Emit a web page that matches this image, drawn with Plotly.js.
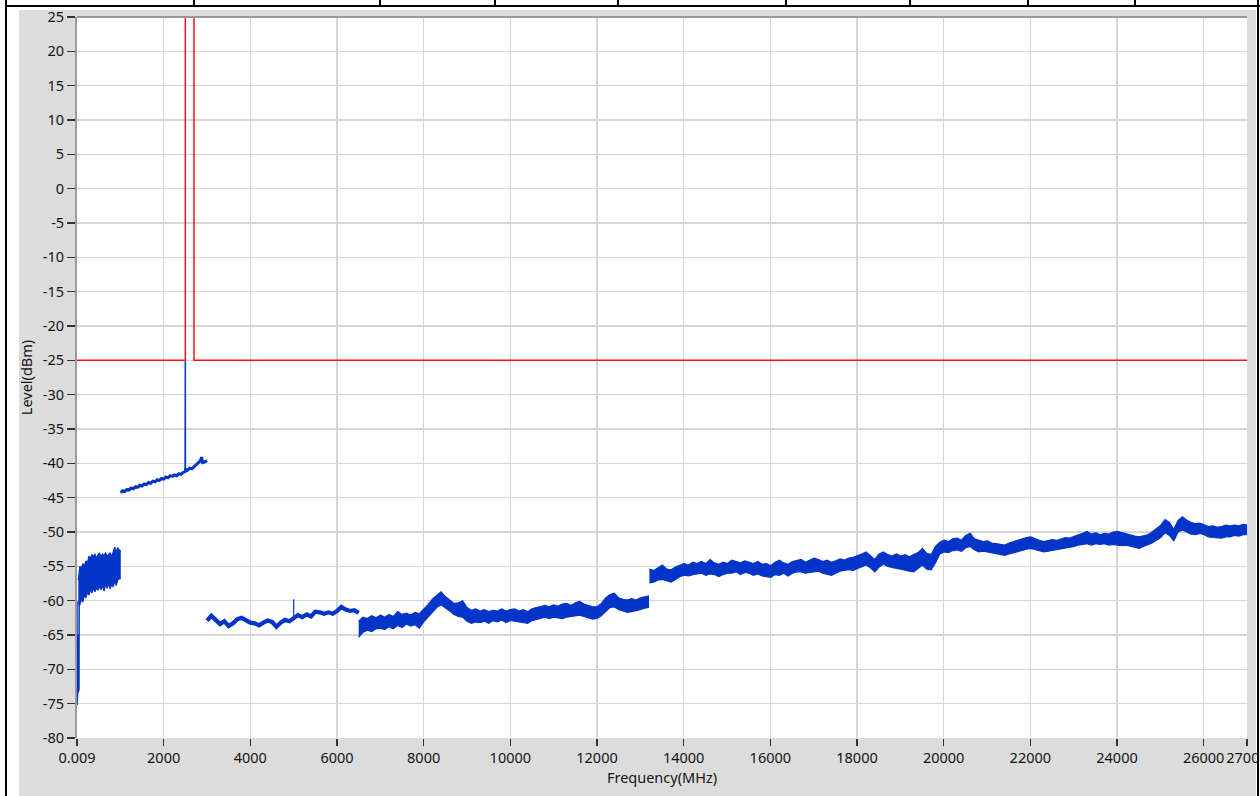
<!DOCTYPE html>
<html><head><meta charset="utf-8">
<script src="https://cdn.plot.ly/plotly-3.0.1.min.js"></script>
<style>
html,body{margin:0;padding:0;background:#fff;}
#wrap{position:relative;width:1260px;height:796px;overflow:hidden;background:#fff;}
#grey{position:absolute;left:19px;top:10px;width:1237px;height:786px;background:#dcdcdc;}
#chart{position:absolute;left:0;top:0;width:1260px;height:796px;}
.blk{position:absolute;background:#000;}
</style></head>
<body><div id="wrap">
<div id="grey"></div>
<div id="chart"></div>
<div class="blk" style="left:5px;top:0;width:2px;height:796px"></div>
<div class="blk" style="left:5px;top:5px;width:1255px;height:2px"></div>
<div class="blk" style="left:1257px;top:0;width:2px;height:796px"></div>
<div class="blk" style="left:193px;top:0;width:2px;height:6px"></div>
<div class="blk" style="left:379px;top:0;width:2px;height:6px"></div>
<div class="blk" style="left:494px;top:0;width:2px;height:6px"></div>
<div class="blk" style="left:617px;top:0;width:2px;height:6px"></div>
<div class="blk" style="left:785px;top:0;width:2px;height:6px"></div>
<div class="blk" style="left:909px;top:0;width:2px;height:6px"></div>
<div class="blk" style="left:1027px;top:0;width:2px;height:6px"></div>
<div class="blk" style="left:1134px;top:0;width:2px;height:6px"></div>
</div>
<script>
// ---------- tick labels ----------
const xTickVals = [0.009, 2000, 4000, 6000, 8000, 10000, 12000, 14000, 16000, 18000, 20000, 22000, 24000, 26000, 27000];
const xTickText = ['0.009','2000','4000','6000','8000','10000','12000','14000','16000','18000','20000','22000','24000','26000','27000'];
const yTickVals = [-80,-75,-70,-65,-60,-55,-50,-45,-40,-35,-30,-25,-20,-15,-10,-5,0,5,10,15,20,25];
const yTickText = ['-80','-75','-70','-65','-60','-55','-50','-45','-40','-35','-30','-25','-20','-15','-10','-5','0','5','10','15','20','25'];

// ---------- limit line (MHz, dBm) ----------
const limitFreq  = [0.009, 2500, 2500, 2700, 2700, 27000];
const limitLevel = [-25, -25, 100, 100, -25, -25];

// ---------- segment A : 9 kHz - 50 MHz ----------
const segAFreq  = [0.009, 0.009, 10, 15, 20, 25, 30, 35, 40, 45, 50];
const segALevel = [-60.1, -75.2, -64.8, -73.5, -65.0, -73.4, -64.9, -73.3, -65.2, -73.0, -60.0];

// ---------- segment B : 30 - 1010 MHz (sweep start / step, max & min envelope) ----------
const segBStart = 30, segBStep = 35;
const segBMax = [-57.0,-55.0,-55.3,-54.6,-55.0,-54.2,-54.5,-53.5,-53.8,-53.3,-53.6,-53.2,-53.9,-53.3,-53.1,-53.6,-53.2,-53.5,-53.0,-53.6,-53.3,-53.0,-53.6,-52.8,-52.2,-52.9,-52.3,-52.6,-52.8];
const segBMin = [-60.5,-60.6,-59.8,-60.2,-59.2,-59.6,-58.8,-59.2,-58.4,-58.9,-58.2,-58.7,-58.1,-58.5,-57.9,-58.4,-57.8,-58.6,-57.6,-58.2,-57.5,-58.3,-57.6,-58.0,-57.2,-57.8,-57.0,-56.8,-56.8];

// ---------- segment C : 1 - 3 GHz ----------
const segCFreq  = [1010,1050,1100,1150,1200,1250,1300,1350,1400,1450,1500,1550,1600,1650,1700,1750,1800,1850,1900,1950,2000,2050,2100,2150,2200,2250,2300,2350,2400,2450,2494,2502,2510,2550,2600,2650,2700,2750,2800,2850,2875,2900,2950,3000];
const segCLevel = [-44.3,-44.0,-44.1,-43.8,-43.9,-43.6,-43.7,-43.4,-43.5,-43.2,-43.3,-43.0,-43.1,-42.8,-42.9,-42.6,-42.7,-42.4,-42.5,-42.2,-42.3,-42.0,-42.1,-41.8,-41.9,-41.7,-41.8,-41.5,-41.6,-41.3,-41.2,-41.0,-40.9,-41.0,-40.7,-40.8,-40.5,-40.2,-40.0,-39.6,-39.1,-39.9,-39.8,-39.6];
const spike1Freq  = [2494, 2496, 2498, 2500, 2502];
const spike1Level = [-41.2, -35.5, -41.1, -24.9, -41.0];

// ---------- segment D : 3 - 6.5 GHz ----------
const segDStart = 3000, segDStep = 100;
const segDLevel = [-62.9,-62.2,-62.8,-63.4,-63.0,-63.7,-63.3,-62.7,-62.5,-62.9,-63.2,-63.3,-63.6,-63.2,-62.9,-63.1,-63.8,-63.2,-62.8,-63.0,-62.6,-62.1,-62.4,-62.0,-62.3,-61.6,-61.7,-61.9,-61.7,-61.9,-61.5,-60.9,-61.3,-61.5,-61.4,-61.8];
const spike2Freq  = [5000, 5000];
const spike2Level = [-62.8, -59.8];

// ---------- segment E : 6.5 - 13.2 GHz (max & min envelope) ----------
const segEStart = 6500, segEStep = 100;
const segEMax = [-63.0,-62.4,-62.6,-62.2,-62.5,-62.1,-62.4,-62.0,-62.3,-61.6,-62.0,-61.8,-62.1,-61.7,-61.9,-61.3,-60.6,-59.8,-59.2,-58.7,-59.4,-59.9,-60.4,-60.3,-60.0,-61.0,-61.4,-61.2,-61.5,-61.3,-61.6,-61.4,-61.5,-61.2,-61.5,-61.3,-61.2,-61.5,-61.3,-61.6,-61.2,-61.0,-60.9,-60.7,-60.9,-60.6,-60.8,-60.5,-60.4,-60.7,-60.3,-60.1,-60.5,-60.7,-60.9,-60.9,-60.4,-59.6,-59.1,-58.9,-59.6,-59.8,-59.9,-59.7,-59.9,-59.6,-59.4,-59.3];
const segEMin = [-65.3,-64.6,-64.3,-64.5,-64.1,-64.0,-64.2,-63.8,-64.1,-63.6,-63.9,-63.4,-63.7,-63.5,-64.0,-63.1,-62.4,-61.7,-61.0,-60.6,-61.0,-61.5,-62.0,-62.3,-62.4,-63.0,-63.3,-63.1,-63.2,-63.0,-63.3,-62.9,-63.1,-62.8,-63.2,-62.9,-63.0,-63.1,-63.2,-63.3,-62.9,-62.7,-62.5,-62.4,-62.6,-62.4,-62.5,-62.6,-62.4,-62.3,-62.2,-62.1,-62.3,-62.5,-62.7,-62.6,-62.2,-61.6,-61.0,-60.9,-61.3,-61.5,-61.7,-61.6,-61.5,-61.3,-61.1,-61.0];

// ---------- segment F : 13.2 - 27 GHz (max & min envelope) ----------
const segFStart = 13210, segFStep = 100;
const segFMax = [-55.4,-55.6,-55.2,-54.8,-55.4,-55.5,-55.1,-54.9,-54.6,-54.8,-54.4,-54.6,-54.3,-54.6,-54.0,-54.5,-54.7,-54.4,-54.6,-54.1,-54.3,-54.5,-54.2,-54.4,-54.6,-54.3,-54.7,-54.6,-54.9,-54.4,-54.1,-54.5,-54.7,-54.3,-54.2,-54.0,-54.4,-54.1,-53.8,-54.0,-54.3,-54.1,-54.4,-54.2,-53.9,-54.1,-53.8,-53.7,-53.5,-53.2,-52.9,-53.4,-54.0,-53.2,-52.9,-53.3,-53.5,-53.2,-53.5,-53.3,-53.6,-53.3,-53.0,-52.4,-53.1,-53.3,-52.1,-51.5,-51.2,-51.4,-51.0,-50.9,-51.2,-50.5,-50.2,-51.0,-51.2,-51.4,-51.3,-51.6,-51.7,-51.8,-51.9,-51.6,-51.4,-51.1,-50.9,-50.8,-50.7,-51.0,-51.2,-51.4,-51.3,-51.1,-51.2,-51.0,-50.8,-50.9,-50.6,-50.4,-50.2,-49.9,-50.3,-50.1,-50.4,-50.2,-50.3,-50.0,-49.9,-50.1,-50.3,-50.5,-50.6,-50.7,-50.5,-50.4,-50.0,-49.5,-49.0,-48.2,-48.6,-49.6,-48.3,-47.8,-48.3,-48.6,-48.8,-48.7,-48.9,-49.2,-49.1,-49.3,-49.2,-49.0,-49.1,-49.0,-49.1,-48.9,-49.0];
const segFMin = [-57.4,-57.3,-57.0,-56.9,-57.1,-57.3,-56.9,-56.5,-56.3,-56.4,-56.2,-56.1,-56.0,-56.3,-56.1,-56.2,-56.5,-56.2,-56.0,-56.0,-55.8,-56.2,-55.9,-56.0,-56.3,-56.1,-56.4,-56.5,-56.6,-56.2,-56.3,-56.0,-56.4,-56.0,-55.8,-55.8,-56.0,-55.9,-55.8,-55.7,-56.0,-56.2,-56.3,-56.0,-55.7,-55.6,-55.5,-55.6,-55.3,-55.1,-54.8,-55.2,-55.8,-55.1,-54.7,-55.0,-55.2,-55.3,-55.4,-55.6,-55.7,-55.8,-55.3,-54.8,-55.4,-55.5,-54.5,-53.2,-52.9,-53.0,-52.7,-52.6,-52.8,-52.3,-52.1,-52.6,-52.9,-52.8,-52.9,-53.0,-53.1,-53.3,-53.4,-53.2,-53.0,-52.8,-52.6,-52.5,-52.4,-52.6,-52.8,-52.9,-52.8,-52.7,-52.6,-52.5,-52.3,-52.2,-52.1,-51.9,-51.8,-51.7,-51.9,-51.7,-51.8,-51.7,-51.9,-51.8,-51.9,-52.0,-51.9,-52.1,-52.3,-52.4,-52.1,-51.9,-51.6,-51.2,-50.8,-50.1,-50.5,-51.3,-50.0,-49.7,-50.0,-50.3,-50.4,-50.2,-50.4,-50.7,-50.8,-50.9,-50.9,-50.7,-50.7,-50.5,-50.6,-50.4,-50.4];

// ---------- drawing ----------
const BLUE = '#0535c8';
const RED = '#ff1010';
const FONT = 'Noto Sans, Open Sans, sans-serif';
const TXT = '#141414';
const FS = 14.5;

function grid(start, step, n) { const a = []; for (let i = 0; i < n; i++) a.push(start + i * step); return a; }
function line(x, y, w) { return {x, y, type:'scatter', mode:'lines', line:{color:BLUE, width:w}, hoverinfo:'skip', showlegend:false}; }
function band(start, step, hi, lo) {
  const x = grid(start, step, hi.length);
  return [
    {x, y: lo, type:'scatter', mode:'lines', line:{color:BLUE, width:1.2}, hoverinfo:'skip', showlegend:false},
    {x, y: hi, type:'scatter', mode:'lines', fill:'tonexty', fillcolor:BLUE, line:{color:BLUE, width:1.2}, hoverinfo:'skip', showlegend:false}
  ];
}

const data = [
  line(segAFreq, segALevel, 1.5),
  ...band(segBStart, segBStep, segBMax, segBMin),
  line(segCFreq, segCLevel, 3),
  line(spike1Freq, spike1Level, 1.5),
  line(grid(segDStart, segDStep, segDLevel.length), segDLevel, 4.2),
  line(spike2Freq, spike2Level, 1.2),
  ...band(segEStart, segEStep, segEMax, segEMin),
  ...band(segFStart, segFStep, segFMax, segFMin),
  {x: limitFreq, y: limitLevel, type:'scatter', mode:'lines', line:{color:RED, width:1.5}, hoverinfo:'skip', showlegend:false}
];

const layout = {
  width: 1260, height: 796,
  margin: {l: 77, r: 13, t: 17, b: 58, pad: 0, autoexpand: false},
  paper_bgcolor: 'rgba(0,0,0,0)',
  plot_bgcolor: '#ffffff',
  showlegend: false,
  font: {family: FONT, size: FS, color: TXT},
  xaxis: {
    range: [0, 27000], autorange: false,
    tickmode: 'array', tickvals: xTickVals, ticktext: xTickText,
    tickangle: 0,
    ticks: 'outside', ticklen: 7, tickwidth: 1.5, tickcolor: '#333',
    ticklabeloverflow: 'allow',
    showgrid: true, gridcolor: '#d6d6d6', gridwidth: 1.5,
    zeroline: false, showline: false,
    automargin: true,
    tickfont: {family: FONT, size: FS, color: TXT},
    title: {text: 'Frequency(MHz)', standoff: 1, font: {family: FONT, size: FS, color: TXT}}
  },
  yaxis: {
    range: [-80, 25], autorange: false,
    tickmode: 'array', tickvals: yTickVals, ticktext: yTickText,
    tickangle: 0,
    ticks: 'outside', ticklen: 8, tickwidth: 1.5, tickcolor: '#333',
    showgrid: true, gridcolor: '#d6d6d6', gridwidth: 1.5,
    zeroline: false, showline: true, linecolor: '#9a9a9a', linewidth: 2,
    automargin: true,
    tickfont: {family: FONT, size: FS, color: TXT},
    title: {text: 'Level(dBm)', standoff: 7, font: {family: FONT, size: FS, color: TXT}}
  },
  shapes: [
    {type: 'line', xref: 'paper', yref: 'paper', x0: 0, x1: 1, y0: 1, y1: 1, line: {color: '#9a9a9a', width: 2}}
  ]
};

Plotly.newPlot('chart', data, layout, {displayModeBar: false, staticPlot: true});
</script>
</body></html>
